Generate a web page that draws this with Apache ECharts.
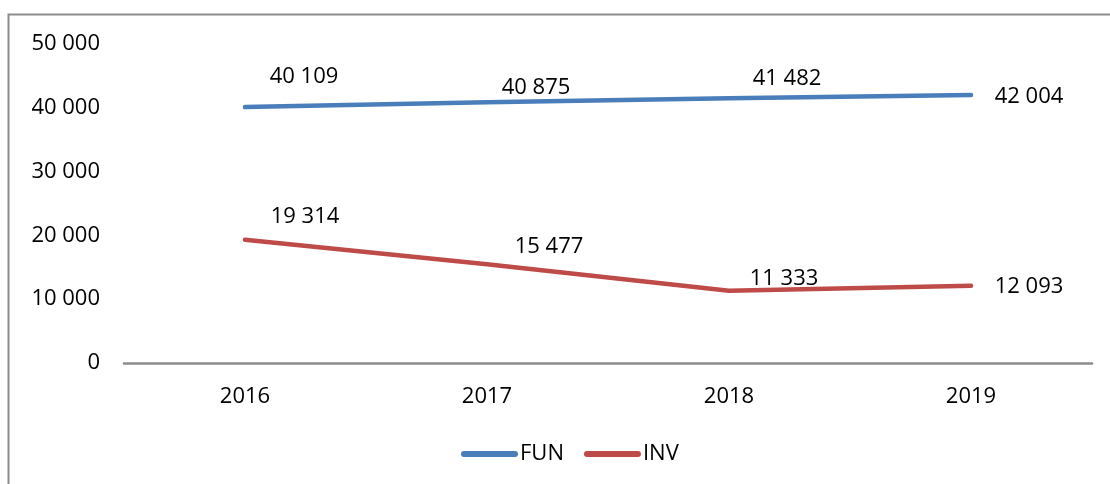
<!DOCTYPE html>
<html>
<head>
<meta charset="UTF-8">
<title>FUN / INV</title>
<style>
    html, body { margin: 0; padding: 0; background: #fff; }
    #chart { width: 1110px; height: 484px; }
</style>
</head>
<body>
<div id="chart"></div>
<script src="https://cdn.jsdelivr.net/npm/echarts@6/dist/echarts.min.js"></script>
<script>
var years = ['2016', '2017', '2018', '2019'];
var funValues = [40109, 40875, 41482, 42004];
var invValues = [19314, 15477, 11333, 12093];
var yTicks = [0, 10000, 20000, 30000, 40000, 50000];

// where each data label sits relative to its point (Excel put them by hand)
var funLabelOffsets = [[59, -30], [49, -14], [58, -20], [58, 2]];
var invLabelOffsets = [[60, -23], [62, -18], [55, -12], [58, 1]];

function spaced(v) {
    return String(v).replace(/\B(?=(\d{3})+(?!\d))/g, ' ');
}

function withLabels(values, offsets) {
    return values.map(function (v, i) {
        return { value: v, label: { offset: offsets[i] } };
    });
}

var font = '"Open Sans", "Noto Sans", sans-serif';
var myChart = echarts.init(document.getElementById('chart'));

function lineSeries(name, color, values, offsets) {
    return {
        name: name,
        type: 'line',
        symbol: 'circle',
        symbolSize: 2,
        lineStyle: { width: 4.5, color: color, cap: 'round' },
        itemStyle: { color: color },
        label: {
            show: true,
            position: 'inside',
            align: 'center',
            verticalAlign: 'middle',
            color: '#000',
            fontFamily: font,
            fontSize: 22,
            formatter: function (p) { return spaced(p.value); }
        },
        emphasis: { disabled: true },
        data: withLabels(values, offsets)
    };
}

var option = {
    animation: false,
    graphic: [{
        type: 'rect',
        shape: { x: 8.5, y: 14.5, width: 2000, height: 2000 },
        style: { fill: 'none', stroke: '#8c8c8c', lineWidth: 2 },
        silent: true
    }],
    grid: { left: 124, right: 18, top: 44, bottom: 121 },
    legend: {
        top: 438,
        left: 456,
        itemWidth: 57,
        itemHeight: 6,
        itemGap: 20,
        icon: 'path://M3,0 L54,0 A3,3 0 0 1 54,6 L3,6 A3,3 0 0 1 3,0 Z',
        textStyle: { fontFamily: font, fontSize: 22, color: '#000', padding: [0, 0, 0, -3] },
        data: ['FUN', 'INV']
    },
    xAxis: {
        type: 'category',
        data: years,
        boundaryGap: true,
        axisLine: { lineStyle: { color: '#8c8c8c', width: 2.5 } },
        axisTick: { show: false },
        axisLabel: { margin: 23, color: '#000', fontFamily: font, fontSize: 22 }
    },
    yAxis: {
        type: 'value',
        min: yTicks[0],
        max: yTicks[yTicks.length - 1],
        interval: yTicks[1] - yTicks[0],
        axisLine: { show: false },
        axisTick: { show: false },
        splitLine: { show: false },
        axisLabel: {
            margin: 24,
            color: '#000',
            fontFamily: font,
            fontSize: 22,
            formatter: function (v) { return spaced(v); }
        }
    },
    series: [
        lineSeries('FUN', '#4a7ebb', funValues, funLabelOffsets),
        lineSeries('INV', '#be4b48', invValues, invLabelOffsets)
    ]
};

myChart.setOption(option);
</script>
</body>
</html>
